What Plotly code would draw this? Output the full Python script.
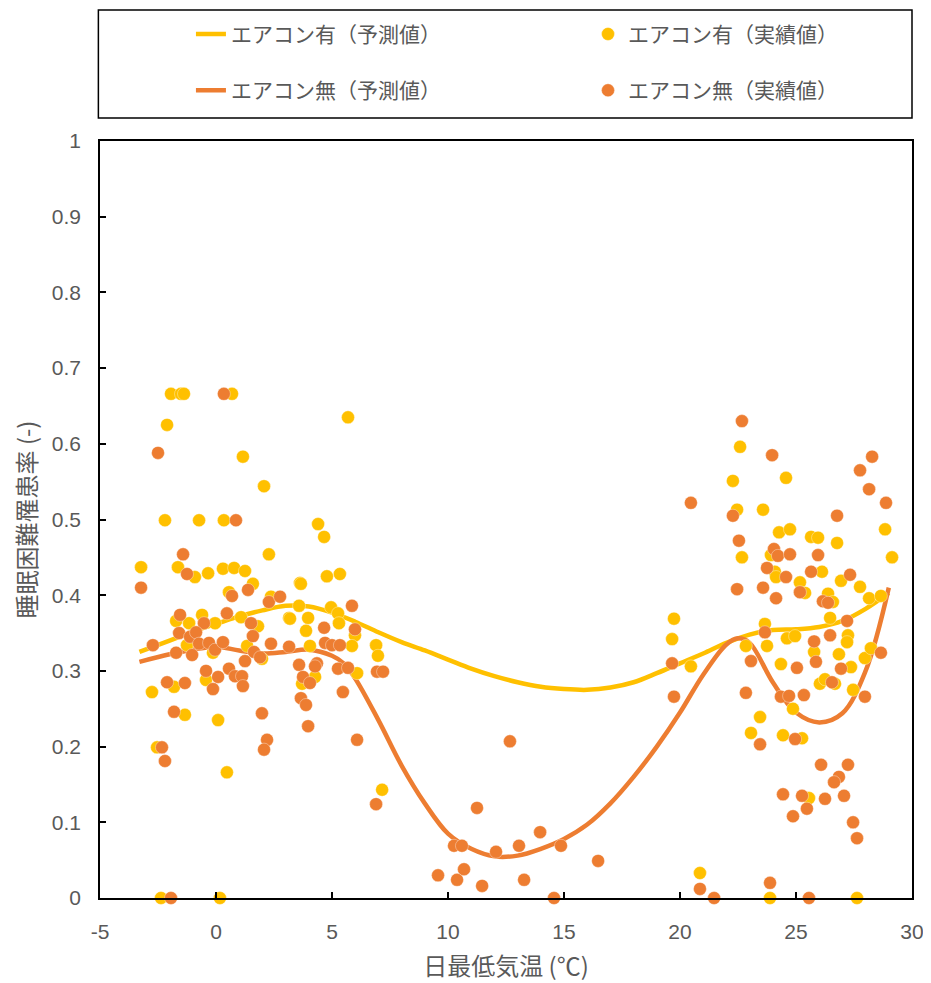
import plotly.graph_objects as go

# ---- data ----
fit_x = [-3.3, -2, -1, 0, 1, 2, 3, 4, 5, 6, 7, 8, 9, 10, 11, 12, 13, 14, 15, 16, 17, 18, 19, 20, 21, 22, 23, 24, 25, 26, 27, 28, 29]
fit_with_ac = [0.325, 0.34, 0.352, 0.362, 0.372, 0.38, 0.386, 0.385, 0.377, 0.365, 0.351, 0.338, 0.327, 0.315, 0.303,
               0.293, 0.285, 0.279, 0.276, 0.275, 0.278, 0.285, 0.297, 0.31, 0.323, 0.337, 0.348, 0.354, 0.355, 0.358,
               0.366, 0.382, 0.403]
fit_x2 = [-3.3, -2, -1, 0, 1, 2, 3, 4, 5, 5.5, 6, 7, 8, 9, 10, 11, 12, 13, 14, 15, 16, 17, 18, 19, 20, 21, 22, 22.5,
          23, 24, 25, 26, 27, 28, 29]
fit_no_ac = [0.312, 0.322, 0.328, 0.332, 0.327, 0.323, 0.325, 0.328, 0.32, 0.31, 0.29, 0.235, 0.175, 0.125, 0.085,
             0.065, 0.055, 0.056, 0.065, 0.078, 0.097, 0.125, 0.16, 0.2, 0.245, 0.295, 0.335, 0.343, 0.337, 0.285,
             0.245, 0.232, 0.244, 0.3, 0.41]

obs_with_x = [-3.23, -2.76, -2.54, -2.20, -2.11, -1.94, -1.51, -1.38, 0.69, 1.16, 2.07, -0.73, 0.34, 2.28, -1.64,
              -0.91, -0.34, 0.30, 0.78, 1.25, 1.59, 0.56, 3.62, 2.37, -1.72, -1.16, -0.60, -0.04, 1.08, 1.81, 3.15,
              -1.25, -0.13, 1.34, 1.98, -0.43, -1.81, -1.34, 0.09, 0.47, -2.37, 0.17, 5.69, 4.40, 4.66, 4.78, 5.34,
              3.66, 3.58, 4.96, 5.26, 3.19, 3.97, 5.30, 3.88, 5.99, 6.90, 6.98, 4.05, 5.86, 6.08, 4.27, 3.71, 7.16,
              22.59, 22.28, 24.57, 22.46, 23.58, 28.84, 24.27, 24.74, 25.65, 25.95, 26.77, 29.14, 22.67, 23.92, 24.09,
              24.14, 26.12, 26.94, 27.76, 28.15, 28.66, 25.17, 25.39, 26.38, 26.59, 26.47, 19.74, 19.66, 23.66, 24.61,
              24.96, 27.24, 27.20, 23.75, 22.84, 25.78, 26.85, 20.47, 24.35, 27.97, 28.23, 27.37, 26.03, 26.25, 26.68,
              27.46, 24.87, 23.45, 23.06, 24.44, 25.26, 25.56, 20.86, 23.88, 27.63]
obs_with_y = [0.437, 0.272, 0.199, 0.499, 0.625, 0.666, 0.666, 0.666, 0.666, 0.583, 0.544, 0.499, 0.499, 0.454, 0.437,
              0.424, 0.429, 0.435, 0.436, 0.432, 0.415, 0.404, 0.416, 0.398, 0.366, 0.363, 0.374, 0.363, 0.371, 0.359,
              0.370, 0.334, 0.324, 0.333, 0.316, 0.288, 0.279, 0.242, 0.235, 0.166, 0.0, 0.0, 0.635, 0.494, 0.477,
              0.425, 0.428, 0.415, 0.386, 0.384, 0.376, 0.369, 0.370, 0.363, 0.353, 0.347, 0.334, 0.320, 0.333, 0.333,
              0.297, 0.292, 0.283, 0.143,
              0.596, 0.551, 0.555, 0.513, 0.513, 0.487, 0.483, 0.487, 0.477, 0.476, 0.469, 0.450, 0.450, 0.453, 0.431,
              0.424, 0.431, 0.419, 0.411, 0.396, 0.399, 0.417, 0.403, 0.402, 0.391, 0.370, 0.369, 0.342, 0.362, 0.343,
              0.346, 0.347, 0.338, 0.333, 0.333, 0.325, 0.322, 0.306, 0.309, 0.317, 0.330, 0.305, 0.283, 0.289, 0.283,
              0.275, 0.250, 0.239, 0.218, 0.215, 0.211, 0.132, 0.033, 0.0, 0.0]

obs_no_x = [-3.23, -2.50, -2.33, -2.20, -1.94, 0.34, 0.86, -1.42, -1.25, 1.38, 0.69, 2.28, 2.76, -1.55, -0.52, 0.47,
            1.51, -2.72, -1.59, -1.12, -0.86, -1.72, -1.03, -0.73, -0.30, -0.04, 0.30, 1.59, 1.64, 1.90, 1.25, 2.37,
            -0.43, 0.09, 0.56, 0.82, 1.12, 1.16, -0.13, -2.11, -1.34, -1.81, 1.98, 2.20, 2.07, 3.15, 4.70, 5.00, 5.34,
            5.86, 4.66, 5.99, 3.58, 4.35, 4.27, 5.26, 5.69, 6.94, 7.20, 3.75, 4.05, 5.47, 3.66, 3.88, 3.97, 6.08, 6.90,
            12.67, 11.25, 10.26, 10.60, 12.07, 13.06, 13.97, 14.87, 16.47, 9.57, 10.39, 10.69, 11.47, 13.28, 14.57,
            22.67, 23.97, 28.28, 27.76, 28.15, 20.47, 28.88, 22.28, 26.77, 22.54, 24.05, 24.22, 24.74, 25.95, 23.75,
            24.57, 25.65, 27.33, 22.46, 23.58, 24.14, 25.17, 26.16, 26.38, 27.20, 23.66, 26.47, 25.78, 19.66, 23.06,
            25.04, 25.86, 28.66, 26.94, 26.55, 27.97, 19.74, 22.84, 24.35, 24.70, 25.34, 23.45, 24.96, 26.08, 27.24,
            26.85, 26.64, 24.44, 25.26, 25.47, 26.25, 27.07, 24.87, 27.46, 27.63, 20.86, 21.47, 23.88, 25.56]
obs_no_y = [0.410, 0.588, 0.199, 0.181, 0.0, 0.666, 0.499, 0.454, 0.428, 0.407, 0.399, 0.391, 0.398, 0.374, 0.363,
            0.376, 0.363, 0.334, 0.350, 0.345, 0.351, 0.324, 0.321, 0.336, 0.337, 0.328, 0.338, 0.346, 0.325, 0.318,
            0.313, 0.336, 0.300, 0.292, 0.303, 0.293, 0.293, 0.280, 0.276, 0.285, 0.284, 0.246, 0.244, 0.209, 0.196,
            0.332, 0.337, 0.334, 0.334, 0.386, 0.357, 0.355, 0.308, 0.310, 0.306, 0.303, 0.304, 0.299, 0.299, 0.292,
            0.284, 0.272, 0.264, 0.255, 0.227, 0.209, 0.124,
            0.207, 0.119, 0.069, 0.069, 0.061, 0.069, 0.087, 0.069, 0.049, 0.030, 0.024, 0.038, 0.016, 0.024, 0.0,
            0.630, 0.585, 0.583, 0.565, 0.540, 0.522, 0.522, 0.505, 0.505, 0.472, 0.461, 0.452, 0.454, 0.453, 0.436,
            0.424, 0.431, 0.427, 0.408, 0.410, 0.396, 0.404, 0.392, 0.390, 0.366, 0.351, 0.347, 0.339, 0.310, 0.313,
            0.304, 0.312, 0.324, 0.303, 0.285, 0.266, 0.266, 0.271, 0.266, 0.267, 0.268, 0.203, 0.210, 0.176, 0.176,
            0.160, 0.153, 0.137, 0.135, 0.118, 0.131, 0.135, 0.108, 0.100, 0.079, 0.012, 0.0, 0.020, 0.0]

x_ticks = [-5, 0, 5, 10, 15, 20, 25, 30]
y_ticks = [0, 0.1, 0.2, 0.3, 0.4, 0.5, 0.6, 0.7, 0.8, 0.9, 1]

names = ["エアコン有（予測値）", "エアコン無（予測値）", "エアコン有（実績値）", "エアコン無（実績値）"]

YELLOW = "#FFC000"
ORANGE = "#ED7D31"
GRAY = "#595959"
JP = "Noto Sans CJK JP"
LAT = "Liberation Sans, Arial, Noto Sans CJK JP"

fig = go.Figure()
fig.add_trace(go.Scatter(x=fit_x, y=fit_with_ac, mode="lines", name=names[0],
                         line=dict(color=YELLOW, width=4.5, shape="spline", smoothing=1.0),
                         legend="legend", legendgroup="a"))
fig.add_trace(go.Scatter(x=fit_x2, y=fit_no_ac, mode="lines", name=names[1],
                         line=dict(color=ORANGE, width=4.5, shape="spline", smoothing=1.0),
                         legend="legend", legendgroup="b"))
fig.add_trace(go.Scatter(x=obs_with_x, y=obs_with_y, mode="markers", name=names[2],
                         marker=dict(color=YELLOW, size=13, line=dict(color="rgba(255,255,255,0.6)", width=0.6)),
                         cliponaxis=False, legend="legend2", legendgroup="c"))
fig.add_trace(go.Scatter(x=obs_no_x, y=obs_no_y, mode="markers", name=names[3],
                         marker=dict(color=ORANGE, size=13, line=dict(color="rgba(255,255,255,0.6)", width=0.6)),
                         cliponaxis=False, legend="legend2", legendgroup="d"))

legend_common = dict(orientation="v", font=dict(family=JP, size=21, color=GRAY),
                     bgcolor="rgba(0,0,0,0)", borderwidth=0, tracegroupgap=26,
                     yanchor="top", xanchor="left", itemsizing="trace")
fig.update_layout(
    width=923, height=975,
    margin=dict(l=92, r=19, t=133, b=85, autoexpand=False),
    paper_bgcolor="white", plot_bgcolor="white",
    showlegend=True,
    legend=dict(x=0.112, y=1.168, **legend_common),
    legend2=dict(x=0.601, y=1.168, **legend_common),
    xaxis=dict(range=[-5, 30], tickvals=x_ticks, ticktext=[str(v) for v in x_ticks],
               ticks="inside", ticklen=6, tickwidth=1.5, tickcolor="black",
               showline=True, linecolor="black", linewidth=1.5, mirror=True,
               showgrid=False, zeroline=False, ticklabelstandoff=14, automargin=False,
               tickfont=dict(family=LAT, size=21, color=GRAY),
               title=dict(text="日最低気温 (℃)", font=dict(family=JP, size=24, color=GRAY), standoff=16)),
    yaxis=dict(range=[0, 1], tickvals=y_ticks, ticktext=[("%g" % v) for v in y_ticks],
               ticks="inside", ticklen=6, tickwidth=1.5, tickcolor="black",
               showline=True, linecolor="black", linewidth=1.5, mirror=True,
               showgrid=False, zeroline=False, ticklabelstandoff=13, automargin=False,
               tickfont=dict(family=LAT, size=21, color=GRAY),
               title=dict(text="睡眠困難罹患率 (-)", font=dict(family=JP, size=24, color=GRAY), standoff=9)),
    shapes=[dict(type="rect", xref="paper", yref="paper", x0=-0.002, x1=1.0,
                 y0=(898 - 118) / 757, y1=(898 - 10) / 757,
                 line=dict(color="black", width=1.5), fillcolor="rgba(0,0,0,0)")],
)

fig.write_html("out.html")
